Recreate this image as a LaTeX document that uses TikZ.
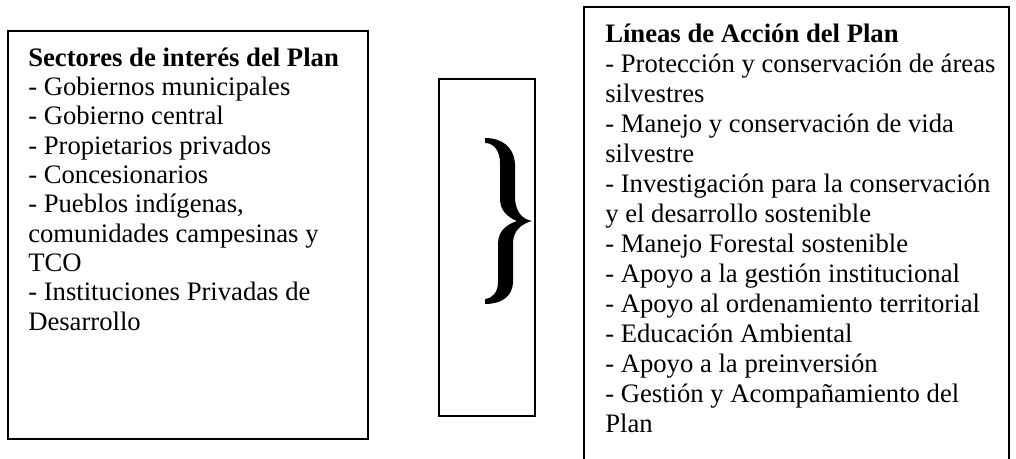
\documentclass[tikz,border=0pt]{standalone}
\usepackage{fontspec}
\setmainfont{Liberation Serif}
\begin{document}
\begin{tikzpicture}[x=0.75pt,y=-0.75pt,
  boxline/.style={draw=black,line width=1.4pt},
  leftfont/.style={font=\fontsize{20}{22}\selectfont},
  rightfont/.style={font=\fontsize{20}{22.5}\selectfont},
  listtext/.style={anchor=north west,inner sep=0pt,align=left,text=black}]
\useasboundingbox (0,0) rectangle (1016,459);
% left box
\draw[boxline] (8,31) rectangle (368,439);
\node[listtext,leftfont] (sectores) at (28,45.4) {\strut\textbf{Sectores de interés del Plan}\\
- Gobiernos municipales\\
- Gobierno central\\
- Propietarios privados\\
- Concesionarios\\
- Pueblos indígenas,\\
comunidades campesinas y\\
TCO\\
- Instituciones Privadas de\\
Desarrollo};
% middle box
\draw[boxline] (439,79) rectangle (535,416);
% brace
\fill[black] (485,138) .. controls (502,138) and (514,147) .. (515,164)
  -- (515,199) .. controls (516,212) and (522,219) .. (532,221)
  .. controls (521,224) and (513,231) .. (513,243)
  -- (513,283) .. controls (512,297) and (501,304) .. (485,304)
  -- (485,299) .. controls (493,298) and (498,292) .. (498,282)
  -- (498,244) .. controls (498,232) and (505,225) .. (517,221)
  .. controls (507,217) and (500,210) .. (500,199)
  -- (500,163) .. controls (500,151) and (494,143) .. (485,143) -- cycle;
% right box (bottom cut off)
\draw[boxline] (584,470) -- (584,7) -- (1009,7) -- (1009,470);
\node[listtext,rightfont] (lineas) at (605,21) {\strut\textbf{Líneas de Acción del Plan}\\
- Protección y conservación de áreas\\
silvestres\\
- Manejo y conservación de vida\\
silvestre\\
- Investigación para la conservación\\
y el desarrollo sostenible\\
- Manejo Forestal sostenible\\
- Apoyo a la gestión institucional\\
- Apoyo al ordenamiento territorial\\
- Educación Ambiental\\
- Apoyo a la preinversión\\
- Gestión y Acompañamiento del\\
Plan};
\end{tikzpicture}
\end{document}
